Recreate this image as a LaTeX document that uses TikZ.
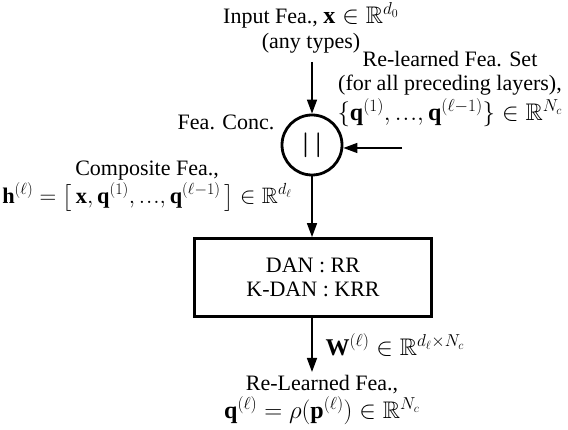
\documentclass[tikz,border=0pt]{standalone}
\usepackage{amsmath,amssymb,graphicx}
\usepackage{fontspec}
\setmainfont{Liberation Serif}
\DeclareMathSizes{22}{24}{17}{13}
\usetikzlibrary{arrows.meta}
\newcommand\eli{{.\kern1pt.\kern1pt.}}
\begin{document}
\begin{tikzpicture}[x=1pt,y=-1pt,
  every node/.style={font=\fontsize{22}{24.5}\selectfont, inner sep=0pt},
  txt/.style={align=center},
  arr/.style={line width=1.5pt,-{Triangle[length=14pt,width=10pt]}},
  box/.style={draw,line width=2.8pt,minimum width=237pt,minimum height=78pt,align=center}]
\useasboundingbox (0,0) rectangle (568,430);
\node[txt] (in) at (311,28) {Input Fea., $\mathbf{x}\in\mathbb{R}^{d_0}$\\(any types)};
\node[draw,circle,line width=2.8pt,minimum size=60pt] (cc) at (312,145) {$\boldsymbol{|\,|}$};
\node (fc) at (226,122) {Fea. Conc.};
\node[txt] (rl) at (450,89) {Re-learned Fea. Set\\(for all preceding layers),\\[2pt]$\{\mathbf{q}^{(1)},\eli,\mathbf{q}^{(\ell-1)}\}\in\mathbb{R}^{N_c}$};
\coordinate (ra) at (402,148);
\coordinate (ta) at (312,62);
\node[box] (b) at (313,277.5) {DAN : RR\\K-DAN : KRR};
\node[txt,anchor=east] (cf) at (292,186) {Composite Fea.,\\[2pt]\scalebox{0.93}{$\mathbf{h}^{(\ell)}=\bigl[\,\mathbf{x},\mathbf{q}^{(1)},\eli,\mathbf{q}^{(\ell-1)}\,\bigr]\in\mathbb{R}^{d_\ell}$}};
\node[txt] (out) at (322,400) {Re-Learned Fea.,\\[2pt]$\mathbf{q}^{(\ell)}=\rho(\mathbf{p}^{(\ell)})\in\mathbb{R}^{N_c}$};
\node (w) at (395,345) {$\mathbf{W}^{(\ell)}\in\mathbb{R}^{d_\ell\times N_c}$};
\coordinate (oa) at (312,372);
\draw[arr] (ta) -- (cc.north);
\draw[arr] (ra) -- (cc.east |- ra);
\draw[arr] (cc.south) -- (cc.south |- b.north);
\draw[arr] (cc.south |- b.south) -- (oa);
\end{tikzpicture}
\end{document}
